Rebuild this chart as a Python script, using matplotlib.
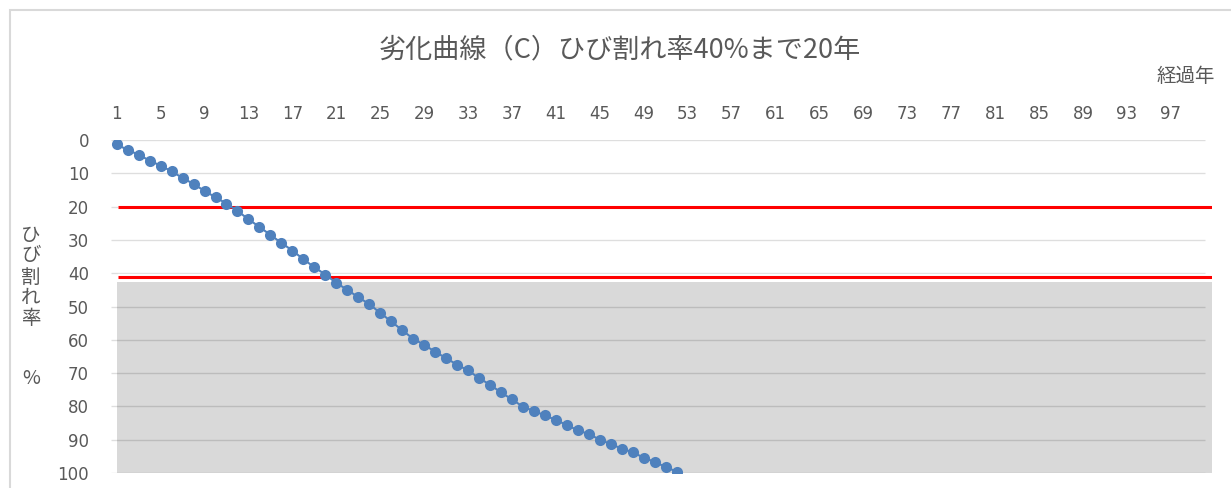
import numpy as np
import matplotlib
matplotlib.use("Agg")
import matplotlib.pyplot as plt
from matplotlib.patches import Rectangle

plt.rcParams['font.family'] = ['Noto Sans CJK JP', 'DejaVu Sans']

# data
years = list(range(1, 101))
crack_years = list(range(1, 54))
crack_rate = [1.3, 3.0, 4.4, 6.2, 7.7, 9.4, 11.4, 13.2, 15.3, 17.2,
              19.1, 21.3, 23.8, 26.1, 28.5, 30.9, 33.2, 35.8, 38.2, 40.4,
              42.9, 45.0, 47.2, 49.3, 51.9, 54.5, 57.1, 59.7, 61.5, 63.6,
              65.5, 67.5, 69.2, 71.5, 73.5, 75.8, 77.9, 80.1, 81.4, 82.7,
              84.1, 85.6, 87.2, 88.3, 90.0, 91.3, 92.7, 93.8, 95.4, 96.7,
              98.2, 99.6, 102.6]
limit_lines = [20, 41]
zone_top = 42.5
zone_bottom = 100
x_ticks = list(range(1, 101, 4))
y_ticks = list(range(0, 101, 10))

title = "劣化曲線（C）ひび割れ率40%まで20年"
x_title = "経過年"
y_title = "ひ\nび\n割\nれ\n率"

txt_col = '#595959'

W, H = 1231, 488
fig = plt.figure(figsize=(W / 100, H / 100), dpi=100)

# chart border (only left and top edges visible)
fig.patches.append(Rectangle((10 / W, -0.1), 1.2, (H - 10) / H + 0.1,
                             transform=fig.transFigure, fill=False,
                             edgecolor='#d9d9d9', linewidth=1.5))

x0, x1 = 111.2, 1212
y0, y1 = 140, 473
ax = fig.add_axes([x0 / W, 1 - y1 / H, (x1 - x0) / W, (y1 - y0) / H])
ax.set_xlim(0.5, 100.75)
ax.set_ylim(100, 0)

# gray zone
ax.fill_between([1, 100.75], zone_top, zone_bottom, color='#d9d9d9',
                linewidth=0, zorder=1)

# gridlines
ax.hlines(y_ticks, 0.5, 100.1, colors='black', alpha=0.13, linewidth=1,
          zorder=2)

# limit lines
for v in limit_lines:
    ax.plot([1.1, 100.75], [v, v], color='white', linewidth=4.5, zorder=3,
            solid_capstyle='butt')
    ax.plot([1.1, 100.75], [v, v], color='#ff0000', linewidth=2.2, zorder=4,
            solid_capstyle='butt')

# deterioration curve
ax.plot(crack_years, crack_rate, color='#4f81bd', linewidth=1.5,
        marker='o', markersize=8, markeredgewidth=0, zorder=5)

for s in ax.spines.values():
    s.set_visible(False)
ax.xaxis.tick_top()
ax.set_xticks(x_ticks)
ax.set_xticklabels([str(v) for v in x_ticks])
ax.set_yticks(y_ticks)
ax.tick_params(axis='both', length=0, labelsize=12, colors=txt_col)
ax.tick_params(axis='x', pad=12)
ax.tick_params(axis='y', pad=16)
for lab in ax.get_xticklabels() + ax.get_yticklabels():
    lab.set_family('DejaVu Sans')
for lab in ax.get_yticklabels():
    lab.set_horizontalalignment('right')

fig.text(620 / W, 1 - 50 / H, title, ha='center', va='center',
         fontsize=19.5, color=txt_col)
fig.text(1215 / W, 1 - 77 / H, x_title, ha='right', va='center',
         fontsize=14, color=txt_col)
fig.text(31 / W, 1 - 277 / H, y_title, ha='center', va='center',
         fontsize=14, color=txt_col, linespacing=1.0)
fig.text(31 / W, 1 - 379 / H, "%", ha='center', va='center',
         fontsize=14, color=txt_col)

fig.savefig('out.png', dpi=100)
